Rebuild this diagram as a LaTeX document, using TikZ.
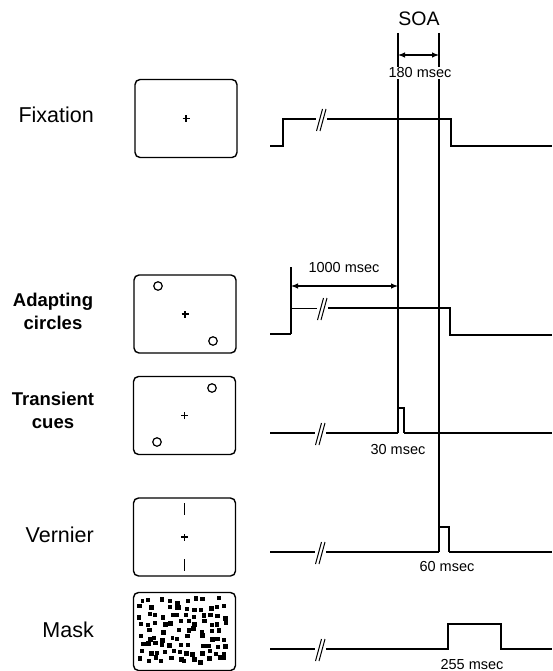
\documentclass[tikz,border=0pt]{standalone}
\usepackage{fontspec}
\setmainfont{Liberation Sans}
\usetikzlibrary{arrows.meta}
\begin{document}
\begin{tikzpicture}[x=1pt,y=-1pt,
  trace/.style={line width=1.8pt, line join=miter},
  thintrace/.style={line width=1.0pt},
  vline/.style={line width=1.1pt},
  screen/.style={draw, line width=1.4pt, rounded corners=5pt, minimum width=102pt, minimum height=78pt, inner sep=0pt},
  lab/.style={font=\fontsize{21.5}{24}\selectfont, anchor=east, inner sep=0pt},
  blab/.style={font=\fontsize{18.5}{23}\selectfont\bfseries, align=center, inner sep=0pt},
  ms/.style={font=\fontsize{14.5}{16}\selectfont, inner sep=0pt},
  soa/.style={font=\fontsize{19.5}{22}\selectfont, inner sep=0pt},
  dim/.style={line width=1.1pt, {Latex[length=7pt,width=5.5pt]}-{Latex[length=7pt,width=5.5pt]}},
  ring/.style={draw, line width=1.2pt, circle, minimum size=8.5pt, inner sep=0pt},
  brk/.pic={
    \fill[white] (-5.5,-2.5) rectangle (5.5,2.5);
    \draw[line width=1pt] (-4.5,12) -- (1.5,-10);
    \draw[line width=1pt] (-1,12) -- (5,-10);
  }
]
\useasboundingbox (0,0) rectangle (552,671);

% ---------- labels ----------
\node[lab] (lfix) at (94,115) {Fixation};
\node[blab] (lada) at (53,311) {Adapting\\circles};
\node[blab] (ltra) at (53,410) {Transient\\cues};
\node[lab] (lver) at (94,535) {Vernier};
\node[lab] (lmas) at (94,630) {Mask};

% ---------- screens ----------
\node[screen] (sfix) at (186,118.5) {};
\node[screen] (sada) at (185,314) {};
\node[screen] (stra) at (184.5,415.5) {};
\node[screen] (sver) at (184.5,537) {};
\node[screen] (smas) at (184.5,631.5) {};

\foreach \n in {sfix,sada,stra,sver}{
  \draw[line width=1.2pt] ([xshift=-3.5pt]\n.center) -- ([xshift=3.5pt]\n.center);
  \draw[line width=1.2pt] ([yshift=-3.5pt]\n.center) -- ([yshift=3.5pt]\n.center);
}
\node[ring] (ca1) at (158,286) {};
\node[ring] (ca2) at (213,341) {};
\node[ring] (ct1) at (212,388) {};
\node[ring] (ct2) at (157,442) {};
\draw[line width=1.3pt] (184.5,503) -- (184.5,515);
\draw[line width=1.3pt] (184.5,559) -- (184.5,571);

% mask texture (jittered grid of small squares)
\pgfmathsetseed{2024}
\foreach \c in {0,...,11}{
  \foreach \r in {0,...,8}{
    \pgfmathsetmacro\keep{rnd}
    \ifdim\keep pt<0.88pt
      \pgfmathsetmacro\xx{136+\c*7.7+rnd*5.5}
      \pgfmathsetmacro\yy{596+\r*7.4+rnd*5.0}
      \pgfmathsetmacro\ss{3.8+rnd*1.3}
      \fill (\xx,\yy) rectangle ++(\ss,\ss);
    \fi
  }
}

% ---------- reference coordinates ----------
\coordinate (Ltop) at (398,33);
\coordinate (Lbot) at (398,433);
\coordinate (Rtop) at (439,33);
\coordinate (Rbot) at (439,552);

% ---------- traces ----------
% fixation
\draw[trace] (270,146) -- (283,146) -- (283,119) -- (451,119) -- (451,146) -- (552,146);
\pic at (321,119) {brk};

% adapting circles
\draw[trace] (270,334) -- (291,334);
\draw[thintrace] (291,308) -- (322,308);
\draw[trace] (322,308) -- (450,308) -- (450,335) -- (552,335);
\coordinate (Atop) at (291,267);
\coordinate (Abot) at (291,334);
\draw[vline] (Atop) -- (Abot);
\pic at (322,308) {brk};

% transient cues
\draw[trace] (270,433) -- (398,433);
\draw[line width=1.5pt] (398,433) -- (398,408) -- (404,408) -- (404,433);
\draw[trace] (404,433) -- (552,433);
\pic at (320,433) {brk};

% vernier
\draw[trace] (270,552) -- (439,552);
\draw[line width=1.5pt] (439,552) -- (439,527) -- (449,527) -- (449,552);
\draw[trace] (449,552) -- (552,552);
\pic at (320,552) {brk};

% mask
\draw[trace] (270,649) -- (448,649) -- (448,624) -- (501,624) -- (501,649) -- (552,649);
\pic at (320,649) {brk};

% vertical marker lines
\draw[vline] (Ltop) -- (Lbot);
\draw[vline] (Rtop) -- (Rbot);

% ---------- dimension arrows & texts ----------
\coordinate (Sl) at (398,55);
\coordinate (Sr) at (439,55);
\draw[dim] (Sl) -- (Sr);
\node[soa] (tsoa) at (419,19) {SOA};
\node[ms, fill=white, inner sep=1pt] (t180) at (420,73) {180 msec};
\coordinate (Aarr) at (291,286);
\coordinate (Larr) at (398,286);
\draw[dim] (Aarr) -- (Larr);
\node[ms] (t1000) at (344,268) {1000 msec};
\node[ms] (t30) at (398,450) {30 msec};
\node[ms] (t60) at (447,567) {60 msec};
\node[ms] (t255) at (472,664) {255 msec};
\end{tikzpicture}
\end{document}
